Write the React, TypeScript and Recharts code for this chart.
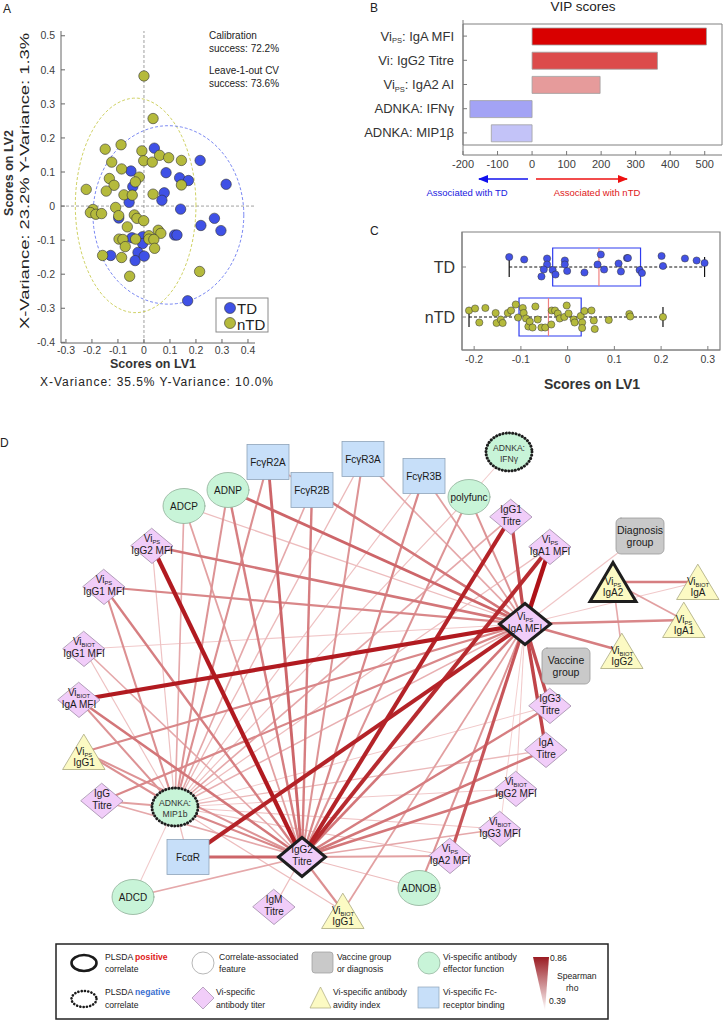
import React from 'react';
import {
  ScatterChart, Scatter, XAxis, YAxis, ReferenceLine, ReferenceArea,
  BarChart, Bar, Cell, ComposedChart,
} from 'recharts';

const FONT = '"Liberation Sans", Arial, Helvetica, sans-serif';

// ---------- A: PLSDA scores ----------
const tdScores = [
  [0.04, 0.17], [0.216, 0.134], [0.316, 0.064], [0.085, 0.098], [-0.05, 0.103], [-0.043, 0.057],
  [0.137, 0.083], [0.171, 0.075], [0.078, 0.039], [0.069, 0.017], [-0.057, 0.011], [0.141, -0.009],
  [0.271, -0.036], [0.219, -0.057], [0.296, -0.072], [-0.097, -0.035], [0.118, -0.085], [0.127, -0.085],
  [-0.046, -0.093], [-0.005, -0.09], [-0.005, -0.11], [-0.023, -0.136], [-0.034, -0.16], [0.001, -0.147],
  [-0.128, -0.145], [0.168, -0.278],
];
const ntdScores = [
  [0, 0.382], [0.035, 0.257], [-0.149, 0.167], [-0.088, 0.18], [-0.008, 0.162], [-0.001, 0.133],
  [0.032, 0.129], [0.06, 0.149], [0.095, 0.142], [0.144, 0.134], [-0.124, 0.129], [-0.086, 0.109],
  [-0.133, 0.081], [-0.115, 0.061], [-0.145, 0.044], [-0.222, 0.049], [-0.018, 0.085], [-0.033, 0.071],
  [-0.077, 0.033], [-0.045, 0.032], [0.035, 0.035], [0.144, 0.062], [-0.196, -0.01], [-0.206, -0.019],
  [-0.185, -0.024], [-0.163, -0.022], [-0.109, -0.004], [-0.097, -0.028], [-0.037, -0.026], [-0.027, -0.036],
  [-0.001, -0.043], [-0.064, -0.061], [-0.096, -0.097], [-0.081, -0.098], [-0.072, -0.119], [-0.032, -0.097],
  [0.019, -0.087], [0.019, -0.097], [0.055, -0.071], [0.065, -0.08], [0.038, -0.098], [0.041, -0.124],
  [-0.159, -0.145], [-0.086, -0.151], [-0.055, -0.206], [0.214, -0.192],
];
const tdEllipse = { cx: 0.094, cy: -0.026, rx: 0.29, ry: 0.262 };
const ntdEllipse = { cx: -0.032, cy: 0.002, rx: 0.232, ry: 0.315 };
const scoreXTicks = [-0.3, -0.2, -0.1, 0, 0.1, 0.2, 0.3, 0.4];
const scoreYTicks = [-0.4, -0.3, -0.2, -0.1, 0, 0.1, 0.2, 0.3, 0.4, 0.5];

// ---------- B: VIP scores ----------
const vipLabels = ['Vi_{PS}: IgA MFI', 'Vi: IgG2 Titre', 'Vi_{PS}: IgA2 AI', 'ADNKA: IFNγ', 'ADNKA: MIP1β'];
const vipValues = [505, 363, 197, -180, -118];
const vipColors = ['#d90000', '#dc4b4b', '#e69b9b', '#a3a3f5', '#c3c3f8'];
const vipTicks = [-200, -100, 0, 100, 200, 300, 400, 500];

// ---------- C: LV1 by group ----------
const tdLV1 = [-0.125, -0.093, -0.044, -0.044, -0.051, -0.056, -0.032, -0.026, -0.006, -0.006, -0.001, 0.036, 0.064,
  0.071, 0.078, 0.109, 0.114, 0.127, 0.129, 0.154, 0.159, 0.201, 0.204, 0.251, 0.276, 0.293];
const tdJitter = [-0.2, -0.15, -0.17, -0.05, 0.05, 0.19, 0.06, 0.15, -0.13, -0.05, 0.08, 0.11, -0.05,
  -0.25, 0.05, -0.07, 0.09, -0.18, -0.18, 0.06, 0.12, -0.22, -0.02, -0.17, -0.13, -0.08];
const ntdLV1 = [-0.211, -0.198, -0.189, -0.176, -0.154, -0.152, -0.143, -0.139, -0.128, -0.121, -0.111, -0.106, -0.096,
  -0.094, -0.089, -0.084, -0.081, -0.075, -0.069, -0.064, -0.056, -0.048, -0.035, -0.034, -0.027, -0.021, -0.017,
  -0.007, -0.002, 0.002, 0.013, 0.015, 0.028, 0.031, 0.031, 0.036, 0.051, 0.056, 0.058, 0.088, 0.132, 0.134, 0.204];
const ntdJitter = [-0.13, -0.17, 0.11, -0.18, -0.08, 0.12, 0.05, 0.12, -0.08, -0.13, -0.25, 0.01, -0.18,
  -0.08, 0.03, 0.19, 0.09, 0.21, -0.21, 0.05, 0.21, 0.21, 0.15, -0.13, -0.13, -0.07, 0.03,
  0, -0.23, -0.07, 0.05, 0.11, -0.02, 0.11, 0.22, -0.12, -0.13, 0.07, 0.24, 0.06, -0.06, -0.01, 0];
const boxGroups = ['TD', 'nTD'];
const boxQ1 = [-0.032, -0.104];
const boxMedian = [0.067, -0.041];
const boxQ3 = [0.156, 0.029];
const whiskerLow = [-0.125, -0.211];
const whiskerHigh = [0.293, 0.204];
const lv1Ticks = [-0.2, -0.1, 0, 0.1, 0.2, 0.3];

// ---------- D: correlation network ----------
type Kind = 'titer' | 'effector' | 'fcr' | 'group' | 'avidity';
type Role = 'pos' | 'neg' | undefined;
const networkNodes: { id: string; x: number; y: number; kind: Kind; role?: Role; label: string[] }[] = [
  { id: 'Fc2A', x: 268, y: 462, kind: 'fcr', label: ['FcγR2A'] },
  { id: 'Fc2B', x: 312, y: 490, kind: 'fcr', label: ['FcγR2B'] },
  { id: 'Fc3A', x: 363, y: 459, kind: 'fcr', label: ['FcγR3A'] },
  { id: 'Fc3B', x: 424, y: 476, kind: 'fcr', label: ['FcγR3B'] },
  { id: 'IFN', x: 509, y: 452, kind: 'effector', role: 'neg', label: ['ADNKA:', 'IFNγ'] },
  { id: 'ADCP', x: 184, y: 506, kind: 'effector', label: ['ADCP'] },
  { id: 'ADNP', x: 228, y: 490, kind: 'effector', label: ['ADNP'] },
  { id: 'poly', x: 469, y: 497, kind: 'effector', label: ['polyfunc'] },
  { id: 'IgG1T', x: 511, y: 517, kind: 'titer', label: ['IgG1', 'Titre'] },
  { id: 'A1MFI', x: 550, y: 547, kind: 'titer', label: ['Vi_{PS}', 'IgA1 MFI'] },
  { id: 'Diag', x: 640, y: 536, kind: 'group', label: ['Diagnosis', 'group'] },
  { id: 'G2MFI', x: 152, y: 546, kind: 'titer', label: ['Vi_{PS}', 'IgG2 MFI'] },
  { id: 'G1MFI', x: 104, y: 587, kind: 'titer', label: ['Vi_{PS}', 'IgG1 MFI'] },
  { id: 'BG1MFI', x: 84, y: 649, kind: 'titer', label: ['Vi_{BIOT}', 'IgG1 MFI'] },
  { id: 'BAMFI', x: 79, y: 700, kind: 'titer', label: ['Vi_{BIOT}', 'IgA MFI'] },
  { id: 'H1', x: 525, y: 624, kind: 'titer', role: 'pos', label: ['Vi_{PS}', 'IgA MFI'] },
  { id: 'A2AI', x: 613, y: 582, kind: 'avidity', role: 'pos', label: ['Vi_{PS}', 'IgA2'] },
  { id: 'BA', x: 698, y: 582, kind: 'avidity', label: ['Vi_{BIOT}', 'IgA'] },
  { id: 'PA1', x: 684, y: 620, kind: 'avidity', label: ['Vi_{PS}', 'IgA1'] },
  { id: 'BG2', x: 622, y: 651, kind: 'avidity', label: ['Vi_{BIOT}', 'IgG2'] },
  { id: 'Vacc', x: 566, y: 666, kind: 'group', label: ['Vaccine', 'group'] },
  { id: 'G3T', x: 550, y: 706, kind: 'titer', label: ['IgG3', 'Titre'] },
  { id: 'AT', x: 546, y: 750, kind: 'titer', label: ['IgA', 'Titre'] },
  { id: 'BG2MFI', x: 516, y: 789, kind: 'titer', label: ['Vi_{BIOT}', 'IgG2 MFI'] },
  { id: 'BG3MFI', x: 500, y: 829, kind: 'titer', label: ['Vi_{BIOT}', 'IgG3 MFI'] },
  { id: 'A2MFI', x: 450, y: 856, kind: 'titer', label: ['Vi_{PS}', 'IgA2 MFI'] },
  { id: 'ADNOB', x: 419, y: 888, kind: 'effector', label: ['ADNOB'] },
  { id: 'PG1', x: 84, y: 752, kind: 'avidity', label: ['Vi_{PS}', 'IgG1'] },
  { id: 'GT', x: 102, y: 801, kind: 'titer', label: ['IgG', 'Titre'] },
  { id: 'MIP', x: 175, y: 807, kind: 'effector', role: 'neg', label: ['ADNKA:', 'MIP1b'] },
  { id: 'FcaR', x: 188, y: 857, kind: 'fcr', label: ['FcαR'] },
  { id: 'H2', x: 302, y: 857, kind: 'titer', role: 'pos', label: ['IgG2', 'Titre'] },
  { id: 'ADCD', x: 133, y: 897, kind: 'effector', label: ['ADCD'] },
  { id: 'IgMT', x: 274, y: 907, kind: 'titer', label: ['IgM', 'Titre'] },
  { id: 'BG1', x: 343, y: 911, kind: 'avidity', label: ['Vi_{BIOT}', 'IgG1'] },
];

// [feature, correlate, Spearman rho]
const networkEdges: [string, string, number][] = [
  ['BAMFI', 'H1', 0.84], ['FcaR', 'H1', 0.82], ['G2MFI', 'H1', 0.62], ['G1MFI', 'H1', 0.58], ['BG1MFI', 'H1', 0.42],
  ['ADCP', 'H1', 0.45], ['ADNP', 'H1', 0.66], ['Fc2B', 'H1', 0.62], ['Fc3A', 'H1', 0.5], ['Fc3B', 'H1', 0.52],
  ['poly', 'H1', 0.55], ['IgG1T', 'H1', 0.72], ['A1MFI', 'H1', 0.86], ['Diag', 'H1', 0.43], ['BA', 'H1', 0.42],
  ['PA1', 'H1', 0.58], ['BG2', 'H1', 0.6], ['G3T', 'H1', 0.72], ['AT', 'H1', 0.74], ['BG2MFI', 'H1', 0.42],
  ['BG3MFI', 'H1', 0.41], ['A2MFI', 'H1', 0.7], ['ADNOB', 'H1', 0.55], ['BG1', 'H1', 0.52], ['GT', 'H1', 0.58],
  ['PG1', 'H1', 0.58], ['MIP', 'H1', 0.48], ['H2', 'H1', 0.62], ['Fc2A', 'H1', 0.5],
  ['FcaR', 'H2', 0.66], ['ADCD', 'H2', 0.5], ['IgMT', 'H2', 0.45], ['BG1', 'H2', 0.56], ['MIP', 'H2', 0.58],
  ['G2MFI', 'H2', 0.84], ['G1MFI', 'H2', 0.6], ['ADCP', 'H2', 0.52], ['ADNP', 'H2', 0.6], ['Fc2A', 'H2', 0.66],
  ['Fc2B', 'H2', 0.6], ['Fc3A', 'H2', 0.55], ['Fc3B', 'H2', 0.58], ['poly', 'H2', 0.55], ['IgG1T', 'H2', 0.82],
  ['A1MFI', 'H2', 0.8], ['G3T', 'H2', 0.6], ['AT', 'H2', 0.62], ['BG2MFI', 'H2', 0.62], ['BG3MFI', 'H2', 0.5],
  ['A2MFI', 'H2', 0.52], ['ADNOB', 'H2', 0.45], ['BAMFI', 'H2', 0.62], ['PG1', 'H2', 0.55], ['GT', 'H2', 0.5],
  ['BG1MFI', 'H2', 0.5],
  ['ADCP', 'MIP', 0.5], ['ADNP', 'MIP', 0.55], ['Fc2A', 'MIP', 0.56], ['Fc2B', 'MIP', 0.5], ['Fc3A', 'MIP', 0.46],
  ['Fc3B', 'MIP', 0.44], ['poly', 'MIP', 0.44], ['IgG1T', 'MIP', 0.5], ['A1MFI', 'MIP', 0.45], ['G1MFI', 'MIP', 0.56],
  ['BG1MFI', 'MIP', 0.44], ['BAMFI', 'MIP', 0.55], ['PG1', 'MIP', 0.56], ['GT', 'MIP', 0.52], ['FcaR', 'MIP', 0.45],
  ['ADCD', 'MIP', 0.42], ['BG1', 'MIP', 0.45], ['G2MFI', 'MIP', 0.44], ['G3T', 'MIP', 0.42], ['AT', 'MIP', 0.46],
  ['BG2MFI', 'MIP', 0.42], ['BG3MFI', 'MIP', 0.43], ['A2MFI', 'MIP', 0.44],
  ['BA', 'A2AI', 0.6], ['PA1', 'A2AI', 0.52], ['BG2', 'A2AI', 0.5], ['poly', 'IFN', 0.42],
];
const rhoRange = [0.39, 0.86];

// ---------- helpers ----------
const fmt1 = (v: number) => (Math.abs(v) < 1e-9 ? '0' : String(Number(v.toFixed(1))));
const NoShape = () => <g />;

function ellipseOutline(e: { cx: number; cy: number; rx: number; ry: number }) {
  const pts = [];
  for (let i = 0; i <= 90; i++) {
    const a = (i / 90) * Math.PI * 2;
    pts.push({ x: e.cx + e.rx * Math.cos(a), y: e.cy + e.ry * Math.sin(a) });
  }
  return pts;
}

function Rich({ text, x, y, size, anchor = 'middle', fill = '#222', weight }: any) {
  const parts = String(text).split(/_\{([^}]*)\}/);
  return (
    <text x={x} y={y} fontSize={size} textAnchor={anchor} fill={fill} fontFamily={FONT} fontWeight={weight}>
      {parts.map((p, i) =>
        i % 2 === 1 ? (
          <tspan key={i} fontSize={size * 0.58} dy={size * 0.2}>{p}</tspan>
        ) : (
          <tspan key={i} dy={i > 0 ? -size * 0.2 : 0}>{p}</tspan>
        ),
      )}
    </text>
  );
}

function mix(t: number) {
  const a = [246, 214, 214], b = [174, 18, 24];
  const c = a.map((v, i) => Math.round(v + (b[i] - v) * t));
  return `rgb(${c[0]},${c[1]},${c[2]})`;
}
const edgeT = (rho: number) => Math.max(0, Math.min(1, (rho - rhoRange[0]) / (rhoRange[1] - rhoRange[0])));

// ---------- A ----------
const tickStyle = { fontSize: 10.5, fill: '#404040', fontFamily: FONT };

function ScoresPlot() {
  const td = tdScores.map(([x, y]) => ({ x, y }));
  const ntd = ntdScores.map(([x, y]) => ({ x, y }));
  const dot = (fill: string) => (p: any) => (
    <circle cx={p.cx} cy={p.cy} r={5.2} fill={fill} stroke="#333" strokeWidth={0.6} />
  );
  return (
    <ScatterChart width={280} height={400} margin={{ top: 31, right: 25, left: 21, bottom: 37 }}>
      <XAxis type="number" dataKey="x" domain={[-0.319, 0.427]} ticks={scoreXTicks} tickFormatter={fmt1}
        allowDataOverflow tick={tickStyle} stroke="#666" tickSize={-4} tickMargin={7.5} height={20} interval={0} />
      <YAxis type="number" dataKey="y" domain={[-0.402, 0.514]} ticks={scoreYTicks} tickFormatter={fmt1}
        allowDataOverflow tick={tickStyle} stroke="#666" tickSize={-4} tickMargin={10} width={40} interval={0} />
      <ReferenceLine x={0} stroke="#777" strokeDasharray="3 2" strokeWidth={0.7} />
      <ReferenceLine y={0} stroke="#777" strokeDasharray="3 2" strokeWidth={0.7} />
      <Scatter data={ellipseOutline(ntdEllipse)} shape={NoShape} isAnimationActive={false}
        line={{ stroke: '#c9cc52', strokeWidth: 0.9, strokeDasharray: '3 2', fill: 'none' }} />
      <Scatter data={ellipseOutline(tdEllipse)} shape={NoShape} isAnimationActive={false}
        line={{ stroke: '#6c7cf0', strokeWidth: 0.9, strokeDasharray: '3 2', fill: 'none' }} />
      <Scatter data={td} shape={dot('#3f51e6')} isAnimationActive={false} />
      <Scatter data={ntd} shape={dot('#b5ba3c')} isAnimationActive={false} />
    </ScatterChart>
  );
}

// ---------- B ----------
function VipTick(props: any) {
  const { x, y, payload } = props;
  return <Rich text={payload.value} x={x} y={y + 4.5} size={13} anchor="end" fill="#333" />;
}

function VipPlot() {
  const rows = vipLabels.map((name, i) => ({ name, value: vipValues[i] }));
  return (
    <BarChart layout="vertical" width={454} height={200} data={rows} margin={{ top: 20, right: 2, left: 10, bottom: 25 }}>
      <XAxis type="number" domain={[-200, 550]} ticks={vipTicks} allowDataOverflow interval={0}
        tick={{ fontSize: 11, fill: '#404040', fontFamily: FONT }} stroke="#777" tickSize={-4} tickMargin={9} height={20} />
      <YAxis type="category" dataKey="name" width={183} tick={<VipTick />} stroke="#777" tickSize={-4}
        tickMargin={13} padding={{ top: 4, bottom: 10 }} interval={0} />
      <ReferenceArea x1={-200} x2={550} fill="none" stroke="#808080" strokeWidth={1} ifOverflow="visible" />
      <Bar dataKey="value" barSize={17} stroke="#a0a0a0" strokeWidth={0.8} isAnimationActive={false}>
        {rows.map((r, i) => <Cell key={r.name} fill={vipColors[i]} />)}
      </Bar>
    </BarChart>
  );
}

// ---------- C ----------
function BoxPlot() {
  const td = tdLV1.map((x, i) => ({ x, y: 1 + tdJitter[i] }));
  const ntd = ntdLV1.map((x, i) => ({ x, y: 2 + ntdJitter[i] }));
  const dot = (fill: string) => (p: any) => (
    <circle cx={p.cx} cy={p.cy} r={3.6} fill={fill} stroke="#333" strokeWidth={0.5} />
  );
  const half = 0.38, cap = 0.2;
  return (
    <ComposedChart width={384} height={205} margin={{ top: 37, right: 4, left: 42, bottom: 25 }}>
      <XAxis type="number" dataKey="x" domain={[-0.226, 0.326]} ticks={lv1Ticks} tickFormatter={fmt1}
        allowDataOverflow interval={0} tick={{ fontSize: 10.5, fill: '#404040', fontFamily: FONT }}
        stroke="#808080" tickSize={-4} tickMargin={10} height={25} />
      <XAxis xAxisId="top" orientation="top" type="number" domain={[-0.226, 0.326]} ticks={lv1Ticks}
        allowDataOverflow interval={0} tick={false} stroke="#808080" tickSize={-4} height={0} axisLine={false} />
      <YAxis type="number" dataKey="y" domain={[0.3, 2.66]} reversed ticks={[1, 2]} allowDataOverflow interval={0}
        tickFormatter={(v: number) => boxGroups[v - 1]} tick={{ fontSize: 16, fill: '#333', fontFamily: FONT }}
        stroke="#808080" tickSize={-4} tickMargin={11} width={80} />
      <YAxis yAxisId="right" orientation="right" type="number" domain={[0.3, 2.66]} reversed ticks={[1, 2]}
        allowDataOverflow interval={0} tick={false} stroke="#808080" tickSize={-4} width={0} axisLine={false} />
      <ReferenceArea x1={-0.226} x2={0.326} y1={0.3} y2={2.66} fill="none" stroke="#808080" strokeWidth={1.2}
        ifOverflow="visible" />
      {boxGroups.map((g, i) => {
        const c = i + 1;
        return (
          <React.Fragment key={g}>
            <ReferenceLine segment={[{ x: whiskerLow[i], y: c }, { x: whiskerHigh[i], y: c }]}
              stroke="#111" strokeDasharray="3 2" strokeWidth={1} />
            <ReferenceLine segment={[{ x: whiskerLow[i], y: c - cap }, { x: whiskerLow[i], y: c + cap }]}
              stroke="#111" strokeWidth={1.2} />
            <ReferenceLine segment={[{ x: whiskerHigh[i], y: c - cap }, { x: whiskerHigh[i], y: c + cap }]}
              stroke="#111" strokeWidth={1.2} />
          </React.Fragment>
        );
      })}
      <Scatter data={td} shape={dot('#4352e6')} isAnimationActive={false} />
      <Scatter data={ntd} shape={dot('#b5ba3c')} isAnimationActive={false} />
      {boxGroups.map((g, i) => {
        const c = i + 1;
        return (
          <React.Fragment key={g + 'box'}>
            <ReferenceArea x1={boxQ1[i]} x2={boxQ3[i]} y1={c - half} y2={c + half} fill="none"
              stroke="#2f3cf0" strokeWidth={1.2} />
            <ReferenceLine segment={[{ x: boxMedian[i], y: c - half }, { x: boxMedian[i], y: c + half }]}
              stroke="#f08080" strokeWidth={1.2} />
          </React.Fragment>
        );
      })}
    </ComposedChart>
  );
}

// ---------- D ----------
const kindStyle: Record<Kind, { fill: string; stroke: string; w: number; h: number }> = {
  titer: { fill: '#f1cdf9', stroke: '#9f8aa8', w: 42, h: 35 },
  effector: { fill: '#c8f4d8', stroke: '#8fae98', w: 42, h: 35 },
  fcr: { fill: '#c7dff9', stroke: '#8ea3b8', w: 42, h: 35 },
  group: { fill: '#c9c9c9', stroke: '#9a9a9a', w: 48, h: 36 },
  avidity: { fill: '#fcfac3', stroke: '#aaa87a', w: 42, h: 35 },
};

function NodeShape(props: any) {
  const { cx, cy, payload } = props;
  const n = payload;
  const st = kindStyle[n.kind as Kind];
  let w = st.w, h = st.h;
  if (n.role === 'pos') { w = n.kind === 'avidity' ? 46 : n.id === 'H1' ? 51 : 47; h = n.id === 'H1' ? 41 : 39; }
  if (n.role === 'neg') { w = 46; h = 38; }
  const stroke = n.role ? '#1e1e1e' : st.stroke;
  const sw = n.role ? 3 : 0.8;
  const dash = n.role === 'neg' ? '0.1 3.2' : undefined;
  const common = { fill: st.fill, stroke, strokeWidth: sw, strokeDasharray: dash, strokeLinecap: 'round' as const, strokeLinejoin: 'miter' as const };
  let shape: React.ReactNode;
  if (n.kind === 'titer') {
    shape = <polygon points={`${cx},${cy - h / 2} ${cx + w / 2},${cy} ${cx},${cy + h / 2} ${cx - w / 2},${cy}`} {...common} />;
  } else if (n.kind === 'effector') {
    shape = <ellipse cx={cx} cy={cy} rx={w / 2} ry={h / 2} {...common} />;
  } else if (n.kind === 'fcr') {
    shape = <rect x={cx - w / 2} y={cy - h / 2} width={w} height={h} {...common} />;
  } else if (n.kind === 'group') {
    shape = <rect x={cx - w / 2} y={cy - h / 2} width={w} height={h} rx={5} {...common} />;
  } else {
    shape = <polygon points={`${cx},${cy - h / 2} ${cx + w / 2},${cy + h / 2} ${cx - w / 2},${cy + h / 2}`} {...common} />;
  }
  const lines: string[] = n.label;
  const small = n.role === 'neg';
  const size = small ? 8.6 : n.kind === 'group' ? 10.5 : 10;
  let ys: number[];
  if (lines.length === 1) ys = [cy + 3.6];
  else if (n.kind === 'avidity') ys = [cy + 2.5, cy + 14];
  else if (n.kind === 'group') ys = [cy - 2, cy + 10];
  else if (small) ys = [cy - 1, cy + 10];
  else ys = [cy - 4.5, cy + 7.5];
  return (
    <g>
      {shape}
      {lines.map((l, i) => <Rich key={i} text={l} x={cx} y={ys[i]} size={size} fill={small ? '#333' : '#1a1a1a'} />)}
    </g>
  );
}

function Network() {
  const byId: Record<string, { x: number; y: number }> = {};
  networkNodes.forEach((n) => { byId[n.id] = n; });
  const edges = [...networkEdges].sort((a, b) => a[2] - b[2]);
  return (
    <ScatterChart width={724} height={520} margin={{ top: 0, right: 0, left: 0, bottom: 0 }}>
      <XAxis type="number" dataKey="x" domain={[0, 724]} hide allowDataOverflow />
      <YAxis type="number" dataKey="y" domain={[420, 940]} reversed hide allowDataOverflow />
      {edges.map(([a, b, rho], i) => {
        const t = edgeT(rho);
        return (
          <Scatter key={i} data={[{ x: byId[a].x, y: byId[a].y }, { x: byId[b].x, y: byId[b].y }]}
            shape={NoShape} isAnimationActive={false}
            line={{ stroke: mix(t), strokeWidth: 0.8 + 3.6 * t, fill: 'none' }} />
        );
      })}
      <Scatter data={networkNodes} shape={NodeShape} isAnimationActive={false} />
    </ScatterChart>
  );
}

// ---------- overlay text ----------
function Annotations() {
  const t = (x: number, y: number, s: string, size = 10, extra: any = {}) => (
    <text x={x} y={y} fontSize={size} fontFamily={FONT} fill="#222" {...extra}>{s}</text>
  );
  return (
    <svg width={724} height={1020} style={{ position: 'absolute', left: 0, top: 0, pointerEvents: 'none' }}>
      <defs>
        <linearGradient id="rhoGrad" x1="0" y1="0" x2="0" y2="1">
          <stop offset="0" stopColor="#9a1b22" />
          <stop offset="1" stopColor="#ffffff" />
        </linearGradient>
        <marker id="arrB" markerWidth="10" markerHeight="8" refX="9" refY="4" orient="auto" markerUnits="userSpaceOnUse">
          <path d="M0,0 L10,4 L0,8 z" fill="#1010ee" />
        </marker>
        <marker id="arrR" markerWidth="10" markerHeight="8" refX="9" refY="4" orient="auto" markerUnits="userSpaceOnUse">
          <path d="M0,0 L10,4 L0,8 z" fill="#ee1010" />
        </marker>
      </defs>
      {/* panel letters */}
      {t(3, 13, 'A', 12)}
      {t(370, 12, 'B', 12)}
      {t(370, 235, 'C', 12)}
      {t(0, 447, 'D', 12)}

      {/* A */}
      {t(209, 39, 'Calibration')}
      {t(209, 52, 'success: 72.2%')}
      {t(209, 74, 'Leave-1-out CV')}
      {t(209, 87, 'success: 73.6%')}
      <text transform="translate(13,173) rotate(-90)" textAnchor="middle" fontSize={12.5} fontWeight="bold"
        fontFamily={FONT} fill="#333">Scores on LV2</text>
      <text transform="translate(29,181) rotate(-90)" textAnchor="middle" fontSize={12} fontFamily={FONT}
        fill="#222" textLength={296} lengthAdjust="spacingAndGlyphs">X-Variance: 23.2%  Y-Variance: 1.3%</text>
      <text x={153} y={368} textAnchor="middle" fontSize={12.5} fontWeight="bold" fontFamily={FONT} fill="#333">Scores on LV1</text>
      <text x={40} y={386} fontSize={12} fontFamily={FONT} fill="#222" textLength={233} lengthAdjust="spacing">
        X-Variance: 35.5%  Y-Variance: 10.0%</text>
      <rect x={216} y={298} width={52} height={34} fill="#fff" stroke="#8a8a8a" strokeWidth={1} />
      <circle cx={230} cy={308} r={5.5} fill="#3f51e6" stroke="#333" strokeWidth={0.6} />
      <circle cx={230} cy={323} r={5.5} fill="#b5ba3c" stroke="#333" strokeWidth={0.6} />
      {t(237, 314, 'TD', 15)}
      {t(237, 329.5, 'nTD', 15)}

      {/* B */}
      <text x={583} y={11} textAnchor="middle" fontSize={13.5} fontFamily={FONT} fill="#222">VIP scores</text>
      <line x1={528} y1={179} x2={479} y2={179} stroke="#1010ee" strokeWidth={1.3} markerEnd="url(#arrB)" />
      <line x1={536} y1={179} x2={627} y2={179} stroke="#ee1010" strokeWidth={1.3} markerEnd="url(#arrR)" />
      <text x={467} y={196} textAnchor="middle" fontSize={9.5} fontFamily={FONT} fill="#2020e0">Associated with TD</text>
      <text x={597} y={196} textAnchor="middle" fontSize={9.5} fontFamily={FONT} fill="#e02020">Associated with nTD</text>

      {/* C */}
      <text x={592} y={389} textAnchor="middle" fontSize={14} fontWeight="bold" fontFamily={FONT} fill="#333">Scores on LV1</text>

      {/* D legend */}
      <rect x={56} y={944} width={552} height={75} fill="#fff" stroke="#222" strokeWidth={1.5} />
      <ellipse cx={84} cy={963} rx={12.5} ry={8} fill="#fff" stroke="#1a1a1a" strokeWidth={2.6} />
      <ellipse cx={84} cy={999} rx={12.5} ry={8} fill="#fff" stroke="#1a1a1a" strokeWidth={2.6}
        strokeDasharray="0.1 3.2" strokeLinecap="round" />
      <text x={105} y={960} fontSize={8.6} fontFamily={FONT} fill="#222">PLSDA <tspan fill="#e02020" fontWeight="bold">positive</tspan></text>
      {t(105, 972, 'correlate', 8.6)}
      <text x={105} y={995} fontSize={8.6} fontFamily={FONT} fill="#222">PLSDA <tspan fill="#3a6fd0" fontWeight="bold">negative</tspan></text>
      {t(105, 1008, 'correlate', 8.6)}
      <ellipse cx={203} cy={963} rx={11} ry={11} fill="#fff" stroke="#999" strokeWidth={0.7} />
      {t(219, 960, 'Correlate-associated', 8.6)}
      {t(219, 972, 'feature', 8.6)}
      <polygon points="203,987 214,998 203,1009 192,998" fill="#f1cdf9" stroke="#9f8aa8" strokeWidth={0.7} />
      {t(216, 995, 'Vi-specific', 8.6)}
      {t(216, 1008, 'antibody titer', 8.6)}
      <rect x={312} y={952} width={21} height={21} rx={3} fill="#c9c9c9" stroke="#9a9a9a" strokeWidth={0.7} />
      {t(337, 960, 'Vaccine group', 8.6)}
      {t(337, 972, 'or diagnosis', 8.6)}
      <polygon points="320.5,987 331,1008 310,1008" fill="#fcfac3" stroke="#aaa87a" strokeWidth={0.7} />
      {t(333, 995, 'Vi-specific antibody', 8.6)}
      {t(333, 1008, 'avidity index', 8.6)}
      <ellipse cx={429} cy={963} rx={11} ry={11} fill="#c8f4d8" stroke="#8fae98" strokeWidth={0.7} />
      {t(443, 960, 'Vi-specific antibody', 8.6)}
      {t(443, 972, 'effector function', 8.6)}
      <rect x={418} y={987} width={21} height={21} fill="#c7dff9" stroke="#8ea3b8" strokeWidth={0.7} />
      {t(443, 995, 'Vi-specific Fc-', 8.6)}
      {t(443, 1008, 'receptor binding', 8.6)}
      <polygon points="533,957 549,957 545,1011" fill="url(#rhoGrad)" />
      {t(550, 961, '0.86', 8.6)}
      {t(557, 979, 'Spearman', 8.6)}
      {t(566, 991, 'rho', 8.6)}
      {t(549, 1004, '0.39', 8.6)}
    </svg>
  );
}

export default function App() {
  return (
    <div style={{ position: 'absolute', left: 0, top: 0, width: 724, height: 1020, background: '#fff', fontFamily: FONT }}>
      <div style={{ position: 'absolute', left: 0, top: 0 }}><ScoresPlot /></div>
      <div style={{ position: 'absolute', left: 270, top: 0 }}><VipPlot /></div>
      <div style={{ position: 'absolute', left: 340, top: 195 }}><BoxPlot /></div>
      <div style={{ position: 'absolute', left: 0, top: 420 }}><Network /></div>
      <Annotations />
    </div>
  );
}
